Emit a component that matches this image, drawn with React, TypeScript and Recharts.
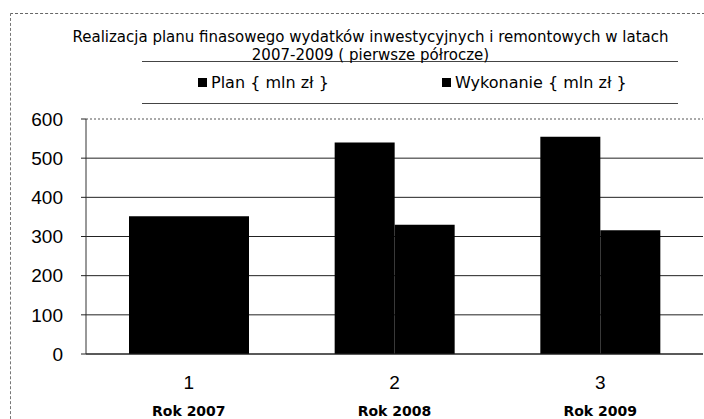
import { BarChart, Bar, XAxis, YAxis, CartesianGrid, Legend, ReferenceLine } from 'recharts';

const categories = ['1', '2', '3'];
const years = ['Rok 2007', 'Rok 2008', 'Rok 2009'];
const plan = [352, 540, 555];
const wykonanie = [352, 330, 316];
const yTicks = [0, 100, 200, 300, 400, 500, 600];

const data = categories.map((c, i) => ({ name: c, plan: plan[i], wykonanie: wykonanie[i] }));

function XTick(props: any) {
  const { x, y, payload, index } = props;
  return (
    <g>
      <text x={x} y={y + 35} textAnchor="middle" fontSize={19} fontFamily="Liberation Sans, Arial" fill="#000">
        {payload.value}
      </text>
      <text x={x} y={y + 62} textAnchor="middle" fontSize={14} fontWeight="bold" fontFamily="DejaVu Sans" fill="#000">
        {years[index]}
      </text>
    </g>
  );
}

function LegendBox(props: any) {
  const items = props.payload || [];
  return (
    <div style={{ display: 'flex', paddingLeft: 198, fontFamily: 'DejaVu Sans', fontSize: 16, color: '#000' }}>
      {items.map((it: any, i: number) => (
        <div key={i} style={{ display: 'flex', alignItems: 'center', width: i === 0 ? 244 : 'auto' }}>
          <span style={{ width: 9, height: 9, background: '#000', marginRight: 4, display: 'inline-block' }} />
          <span>{it.value}</span>
        </div>
      ))}
    </div>
  );
}

export default function App() {
  return (
    <div style={{ position: 'absolute', left: 0, top: 0, width: 704, height: 419, background: '#fff', overflow: 'hidden' }}>
      {/* ramka skanu */}
      <div style={{ position: 'absolute', left: 10, top: 13, width: 694, height: 420, borderLeft: '1px dashed #777', borderTop: '1px dashed #666' }} />
      <div style={{ position: 'absolute', left: 142, top: 61, width: 536, borderTop: '1px solid #444' }} />
      <div style={{ position: 'absolute', left: 142, top: 103, width: 536, borderTop: '1px solid #444' }} />
      <div
        style={{
          position: 'absolute',
          left: 0,
          top: 28,
          width: 741,
          textAlign: 'center',
          fontFamily: 'DejaVu Sans',
          fontSize: 15,
          lineHeight: '18px',
          color: '#000',
        }}
      >
        Realizacja planu finasowego wydatków inwestycyjnych i remontowych w latach
        <br />
        2007-2009 ( pierwsze półrocze)
      </div>
      <BarChart
        width={704}
        height={419}
        data={data}
        margin={{ top: 119, right: 1, left: 0, bottom: 0 }}
        barSize={60}
        barGap={0}
        style={{ position: 'absolute', left: 0, top: 0 }}
      >
        <CartesianGrid vertical={false} stroke="#222" />
        <ReferenceLine y={600} stroke="#fff" strokeWidth={2} />
        <ReferenceLine y={600} stroke="#555" strokeDasharray="2 2" />
        <XAxis
          dataKey="name"
          tick={<XTick />}
          tickLine={false}
          tickSize={0}
          tickMargin={0}
          axisLine={{ stroke: '#222' }}
          height={65}
          interval={0}
        />
        <YAxis
          domain={[0, 600]}
          ticks={yTicks}
          width={86}
          tickSize={5}
          tickMargin={18}
          tickLine={{ stroke: '#222' }}
          axisLine={{ stroke: '#333' }}
          tick={{ fontSize: 19, fill: '#000', fontFamily: 'Liberation Sans, Arial' }}
        />
        <Legend
          verticalAlign="middle"
          align="center"
          content={<LegendBox />}
          wrapperStyle={{ top: 73, left: 0, width: 704 }}
        />
        <Bar dataKey="plan" name="Plan { mln zł }" fill="#000" isAnimationActive={false} />
        <Bar dataKey="wykonanie" name="Wykonanie { mln zł }" fill="#000" isAnimationActive={false} />
      </BarChart>
    </div>
  );
}
